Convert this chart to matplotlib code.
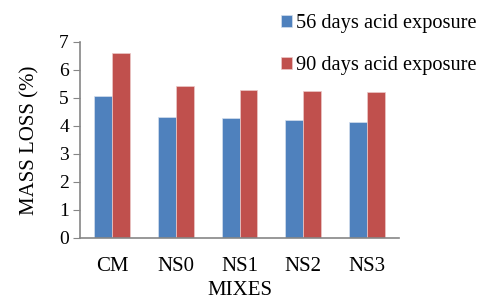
import numpy as np
import matplotlib.pyplot as plt

mixes = ["CM", "NS0", "NS1", "NS2", "NS3"]
days56 = [5.08, 4.33, 4.29, 4.2, 4.13]
days90 = [6.58, 5.43, 5.27, 5.23, 5.2]
labels = ["56 days acid exposure", "90 days acid exposure"]

plt.rcParams['font.family'] = ['Liberation Serif', 'DejaVu Serif']

fig = plt.figure(figsize=(4.84, 3.0), dpi=100)
ax = fig.add_axes([80/484, 1-238/300, 319/484, (238-41.7)/300])

x = np.arange(len(mixes))
w = 0.28
b1 = ax.bar(x - w/2, days56, w, color="#4F81BD", edgecolor="#D5E0EE", linewidth=0.5, label=labels[0])
b2 = ax.bar(x + w/2, days90, w, color="#C0504D", edgecolor="#EBC9C8", linewidth=0.5, label=labels[1])

ax.set_xlim(-0.5, len(mixes) - 0.5)
ax.set_ylim(0, 7)
ax.set_yticks(range(0, 8))
ax.set_xticks(x)
ax.set_xticklabels(mixes)
ax.tick_params(axis='y', labelsize=14, length=5, color="#868686", pad=3)
ax.tick_params(axis='x', labelsize=15, length=0, pad=14)
for s in ["top", "right"]:
    ax.spines[s].set_visible(False)
for s in ["left", "bottom"]:
    ax.spines[s].set_color("#868686")
    ax.spines[s].set_linewidth(1.2)

ax.set_ylabel("MASS LOSS (%)", fontsize=15, labelpad=14)
ax.set_xlabel("MIXES", fontsize=15, labelpad=3)

fig.legend(handles=[b1, b2], loc="upper left", bbox_to_anchor=(0.542, 1.015),
           frameon=False, fontsize=14.7, handlelength=0.55, handleheight=0.55,
           handletextpad=0.2, labelspacing=1.15)

fig.savefig("out.png", dpi=100)
